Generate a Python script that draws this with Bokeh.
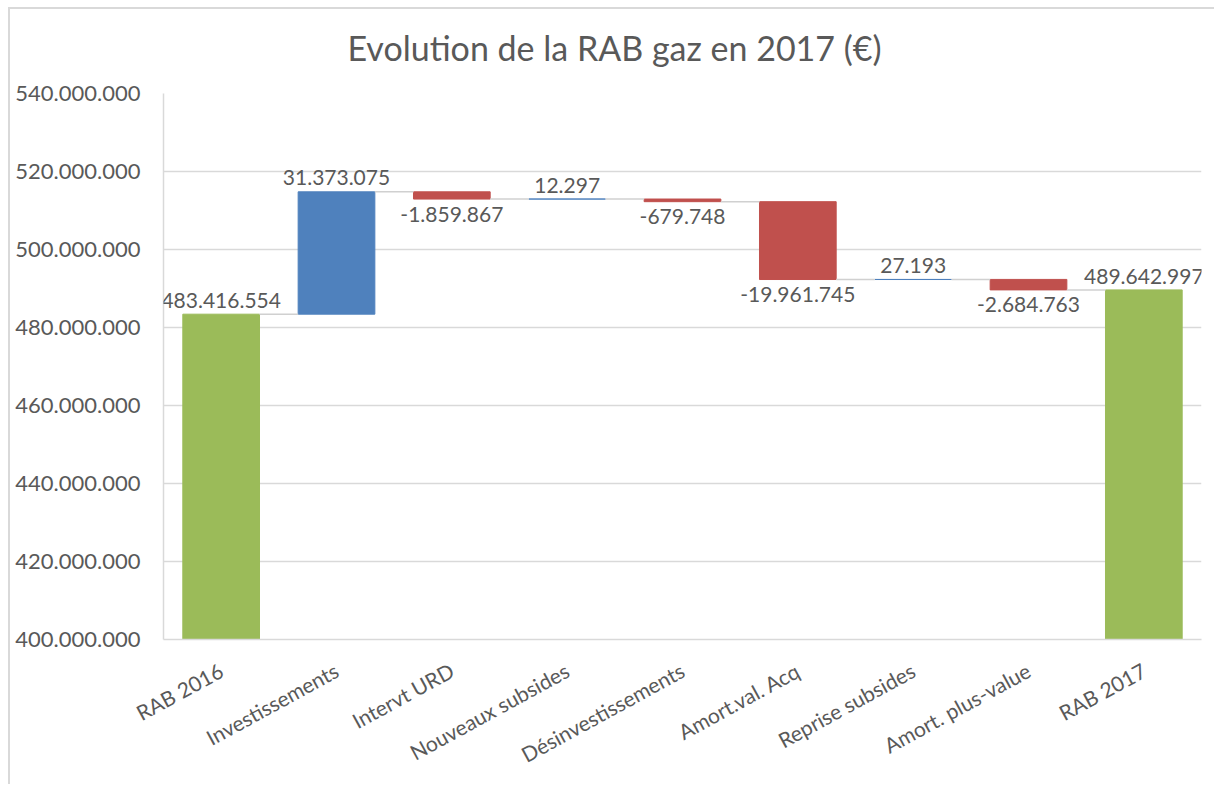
from bokeh.plotting import figure
from bokeh.models import ColumnDataSource, FactorRange, Range1d, FixedTicker, LabelSet
from bokeh.transform import dodge
from bokeh.embed import file_html
from bokeh.resources import INLINE
from bokeh.core.properties import value

# ---------------- data ----------------
categories = ["RAB 2016", "Investissements", "Intervt URD", "Nouveaux subsides",
              "Désinvestissements", "Amort.val. Acq", "Reprise subsides",
              "Amort. plus-value", "RAB 2017"]
start_value = 483416554
changes = [31373075, -1859867, 12297, -679748, -19961745, 27193, -2684763]
end_value = 489642997
y_ticks = [400000000, 420000000, 440000000, 460000000, 480000000,
           500000000, 520000000, 540000000]
title_text = "Evolution de la RAB gaz en 2017 (€)"

GREEN, BLUE, RED = "#9BBB59", "#4F81BD", "#C0504D"
TXT = "#595959"
FONT = "Lato"


def fmt(v):
    return f"{int(v):,}".replace(",", ".")


# ------------- waterfall geometry from data -------------
bottoms, tops, colors, vals, lab_y, lab_off = [], [], [], [], [], []
bottoms.append(0); tops.append(start_value); colors.append(GREEN)
vals.append(start_value); lab_y.append(start_value); lab_off.append(14)
running = start_value
levels = [start_value]
for c in changes:
    new = running + c
    bottoms.append(min(running, new)); tops.append(max(running, new))
    colors.append(BLUE if c >= 0 else RED)
    vals.append(c)
    lab_y.append(max(running, new) if c >= 0 else min(running, new))
    lab_off.append(14 if c >= 0 else -15)
    running = new
    levels.append(running)
bottoms.append(0); tops.append(end_value); colors.append(GREEN)
vals.append(end_value); lab_y.append(end_value); lab_off.append(13)

bars = ColumnDataSource(dict(cat=categories, bottom=bottoms, top=tops, color=colors,
                             label=[fmt(v) for v in vals], ly=lab_y, loff=lab_off))
conn = ColumnDataSource(dict(frm=categories[:-1], to=categories[1:], level=levels))

# ------------- figure -------------
p = figure(x_range=FactorRange(*categories), y_range=Range1d(400000000, 540000000),
           width=1214, height=784, output_backend="svg", toolbar_location=None,
           min_border_left=163, min_border_right=13, min_border_top=93,
           min_border_bottom=145)
# thin outer chart-area border (top and left edges) drawn behind the canvas
p.styles = {
    "background-color": "white",
    "background-image": "linear-gradient(#D9D9D9, #D9D9D9), linear-gradient(#D9D9D9, #D9D9D9)",
    "background-position": "8px 7px, 8px 7px",
    "background-size": "1206px 2px, 2px 777px",
    "background-repeat": "no-repeat",
}
p.outline_line_color = None
p.background_fill_color = "white"
p.border_fill_color = None

p.title.text = title_text
p.title.align = "left"
p.title.offset = 184
p.title.vertical_align = "top"
p.title.text_font = FONT
p.title.text_font_style = "normal"
p.title.text_font_size = "34px"
p.title.text_color = TXT
p.title.standoff = 48

p.vbar(x="cat", bottom="bottom", top="top", width=0.665, source=bars,
       fill_color="color", line_color="color", line_width=1)

p.segment(x0=dodge("frm", 0.3325, range=p.x_range), y0="level",
          x1=dodge("to", -0.3325, range=p.x_range), y1="level",
          source=conn, line_color="#D0D0D0", line_width=1.5)

labels = LabelSet(x="cat", y="ly", text="label", source=bars, y_offset="loff",
                  text_align="center", text_baseline="middle",
                  text_font=value(FONT), text_font_size=value("21px"),
                  text_color=TXT)
p.add_layout(labels)

# axes
p.yaxis.ticker = FixedTicker(ticks=y_ticks)
p.yaxis.major_label_overrides = {t: fmt(t) for t in y_ticks}
p.yaxis.major_label_text_font = FONT
p.yaxis.major_label_text_font_size = "22px"
p.yaxis.major_label_text_color = TXT
p.yaxis.major_tick_line_color = None
p.yaxis.minor_tick_line_color = None
p.yaxis.axis_line_color = "#D9D9D9"
p.yaxis.axis_line_width = 1.5
p.yaxis.major_label_standoff = 17

p.xaxis.major_label_orientation = 0.5
p.xaxis.major_label_text_font = FONT
p.xaxis.major_label_text_font_size = "21px"
p.xaxis.major_label_text_color = TXT
p.xaxis.major_tick_line_color = None
p.xaxis.minor_tick_line_color = None
p.xaxis.axis_line_color = "#D9D9D9"
p.xaxis.axis_line_width = 1.5
p.xaxis.major_label_standoff = 23

p.xgrid.grid_line_color = None
p.ygrid.grid_line_color = "#D9D9D9"
p.ygrid.grid_line_width = 1.5

open("out.html", "w").write(file_html(p, INLINE))
